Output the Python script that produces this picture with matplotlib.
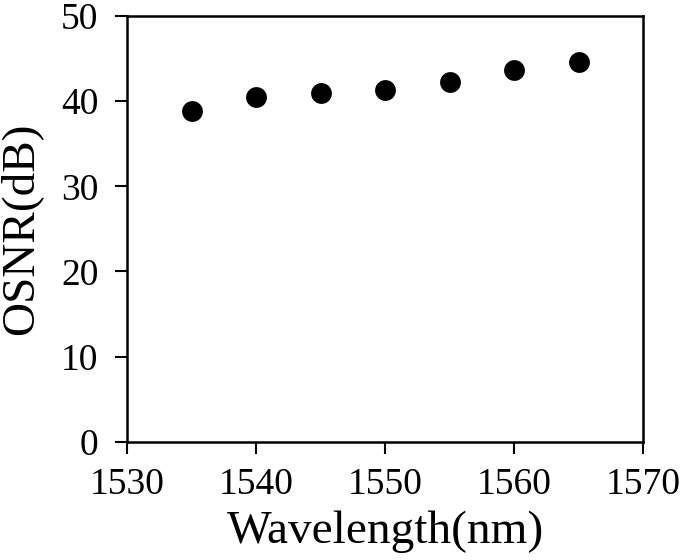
import matplotlib
matplotlib.use("Agg")
import matplotlib.pyplot as plt

plt.rcParams.update({"font.family": "Liberation Serif"})

wavelength = [1535, 1540, 1545, 1550, 1555, 1560, 1565]
osnr = [38.9, 40.5, 41.0, 41.3, 42.2, 43.7, 44.6]

fig = plt.figure(figsize=(6.85, 5.6), dpi=100)
ax = fig.add_axes([0.1854, 0.2113, 0.7533, 0.7601])

ax.plot(wavelength, osnr, "o", color="black", markersize=15, markeredgewidth=0)

ax.set_xlim(1530, 1570)
ax.set_ylim(0, 50)
ax.set_xticks(range(1530, 1571, 10))
ax.set_yticks(range(0, 51, 10))
for s in ax.spines.values():
    s.set_linewidth(1.8)
ax.tick_params(axis="both", direction="out", length=8.5, width=1.5, labelsize=27)
ax.tick_params(axis="x", pad=10)
ax.tick_params(axis="y", pad=12)

ax.set_xlabel("Wavelength(nm)", fontsize=34, labelpad=6)
ax.set_ylabel("OSNR(dB)", fontsize=34, labelpad=14)

fig.savefig("out.png", dpi=100)
